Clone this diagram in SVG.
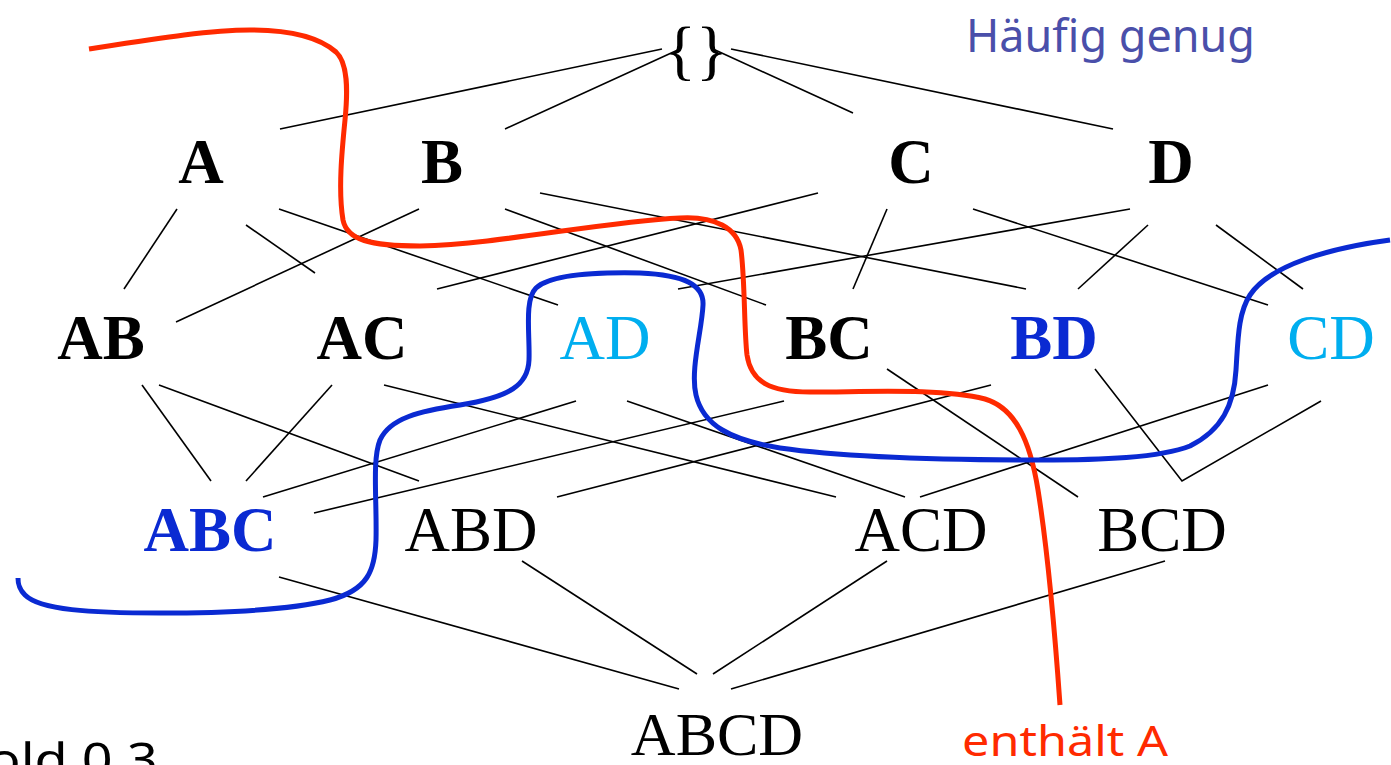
<svg xmlns="http://www.w3.org/2000/svg" width="1391" height="765" viewBox="0 0 1391 765">
<style>
.n{font-family:"Liberation Serif","Times New Roman",serif;font-size:63px;text-anchor:middle;fill:#000}
.b{font-weight:bold}
.blue{fill:#0A2AD2}
.cyan{fill:#00AEEF}
.e line{stroke:#000;stroke-width:1.6;fill:none}
.hand{font-family:"Noto Sans","DejaVu Sans",sans-serif}
.curve{fill:none;stroke-width:5;stroke-linecap:butt}
</style>
<rect width="1391" height="765" fill="#fff"/>
<g id="connectors" class="e">
<line x1="280" y1="129" x2="662" y2="49"/>
<line x1="505" y1="129" x2="680" y2="49"/>
<line x1="713" y1="49" x2="853" y2="113"/>
<line x1="731" y1="49" x2="1113" y2="129"/>
<line x1="177" y1="209" x2="124" y2="289"/>
<line x1="246" y1="225" x2="315" y2="273"/>
<line x1="279" y1="209" x2="558" y2="305"/>
<line x1="419" y1="209" x2="176" y2="322"/>
<line x1="505" y1="209" x2="766" y2="305"/>
<line x1="540" y1="193" x2="1026" y2="289"/>
<line x1="818" y1="193" x2="437" y2="289"/>
<line x1="887" y1="209" x2="853" y2="289"/>
<line x1="973" y1="209" x2="1268" y2="305"/>
<line x1="1130" y1="209" x2="678" y2="289"/>
<line x1="1148" y1="225" x2="1078" y2="289"/>
<line x1="1216" y1="225" x2="1303" y2="289"/>
<line x1="142" y1="385" x2="211" y2="481"/>
<line x1="159" y1="385" x2="419" y2="481"/>
<line x1="332" y1="385" x2="246" y2="481"/>
<line x1="384" y1="385" x2="836" y2="497"/>
<line x1="576" y1="401" x2="263" y2="497"/>
<line x1="627" y1="401" x2="905" y2="497"/>
<line x1="784" y1="401" x2="314" y2="513"/>
<line x1="887" y1="369" x2="1078" y2="497"/>
<line x1="991" y1="385" x2="557" y2="497"/>
<line x1="1268" y1="385" x2="920" y2="497"/>
<polyline points="1095,369 1182,481 1321,401" style="stroke:#000;stroke-width:1.6;fill:none"/>
<line x1="279" y1="577" x2="679" y2="689"/>
<line x1="522" y1="561" x2="697" y2="674"/>
<line x1="887" y1="561" x2="713" y2="674"/>
<line x1="1165" y1="561" x2="731" y2="689"/>
</g>
<g id="n-empty"><text class="n" x="696" y="72" style="font-size:66px">{}</text></g>
<g id="n-A"><text class="n b" x="201" y="183">A</text></g>
<g id="n-B"><text class="n b" x="442" y="183">B</text></g>
<g id="n-C"><text class="n b" x="911" y="183">C</text></g>
<g id="n-D"><text class="n b" x="1171" y="183">D</text></g>
<g id="n-AB"><text class="n b" x="101" y="359">AB</text></g>
<g id="n-AC"><text class="n b" x="362" y="359">AC</text></g>
<g id="n-AD"><text class="n cyan" x="605" y="359">AD</text></g>
<g id="n-BC"><text class="n b" x="829" y="359">BC</text></g>
<g id="n-BD"><text class="n b blue" x="1054" y="359">BD</text></g>
<g id="n-CD"><text class="n cyan" x="1331" y="359">CD</text></g>
<g id="n-ABC"><text class="n b blue" x="210" y="551">ABC</text></g>
<g id="n-ABD"><text class="n" x="471" y="551">ABD</text></g>
<g id="n-ACD"><text class="n" x="921" y="551">ACD</text></g>
<g id="n-BCD"><text class="n" x="1162" y="551">BCD</text></g>
<g id="n-ABCD"><text class="n" x="717" y="755" style="font-size:62px">ABCD</text></g>
<g id="curves">
<path class="curve" stroke="#FF2A00" d="M89,49 C160,38 210,30 250,30 C290,30 320,38 336,52 C348,63 348,90 345,120 C342,150 338,190 343,220 C347,240 370,246 420,246 C500,244 600,222 680,218 C715,216 737,228 741,250 C745,280 744,330 747,355 C751,382 770,392 810,392 C870,392 940,388 985,399 C1015,408 1030,440 1038,490 C1046,540 1054,620 1060,705"/>
<path class="curve" stroke="#0A2AD2" d="M1390,240 C1330,248 1270,265 1250,295 C1238,313 1238,340 1236,370 C1234,405 1222,430 1190,446 C1160,458 1100,460 1040,460 C960,460 850,458 780,448 C730,440 703,425 696,395 C690,370 702,330 703,305 C704,285 685,275 640,273 C590,272 550,275 536,288 C524,300 530,335 529,360 C528,385 510,397 460,405 C420,411 390,418 380,440 C372,460 377,500 376,540 C375,570 368,590 330,600 C290,610 220,613 160,613 C90,613 40,610 25,595 C18,588 18,582 18,578"/>
</g>
<g id="labels">
<text class="hand" x="966" y="52" font-size="46" fill="#4A4FAA" textLength="289" lengthAdjust="spacingAndGlyphs">Häufig genug</text>
<text class="hand" x="962" y="756" font-size="42" fill="#FF2A00" textLength="206" lengthAdjust="spacingAndGlyphs">enthält A</text>
<text class="hand" x="-12" y="776" font-size="46" fill="#000" textLength="170" lengthAdjust="spacingAndGlyphs">old 0.3</text>
</g>
</svg>
